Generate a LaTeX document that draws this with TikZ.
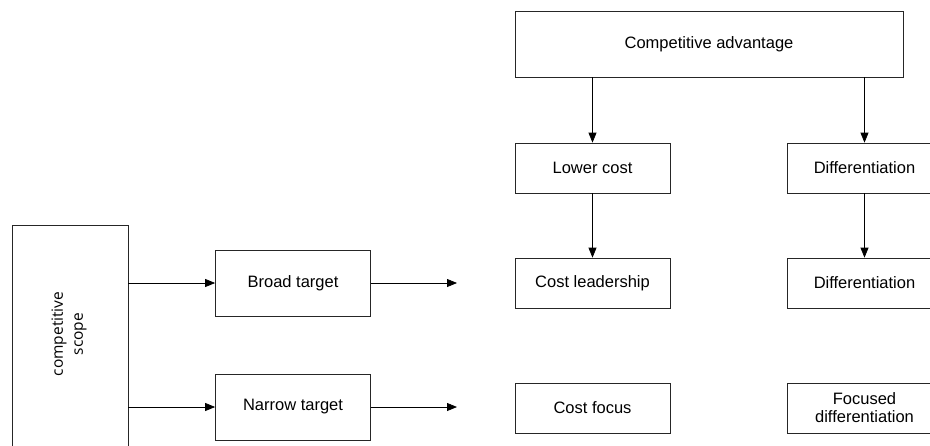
\documentclass[tikz,border=0pt]{standalone}
\usepackage{fontspec}
\setmainfont{Liberation Sans}
\newfontfamily\scopefont{Open Sans}
\usetikzlibrary{arrows.meta}
\begin{document}
\begin{tikzpicture}[x=1pt,y=-1pt,
  box/.style={draw=black!85,line width=0.75pt,minimum width=155pt,minimum height=50pt,align=center,inner sep=0pt,
    font=\fontsize{16.5}{18}\selectfont},
  arr/.style={line width=0.75pt,-{Triangle[length=10pt,width=8pt]}}]
\useasboundingbox (0,0) rectangle (930,445);
\clip (0,0) rectangle (930,445);
\fill[white] (0,0) rectangle (930,445);
% competitive scope
\node[draw=black!85,line width=0.75pt,minimum width=116pt,minimum height=240pt,inner sep=0pt] (scope) at (70,345) {};
\node[rotate=90,align=center,font=\scopefont\fontsize{15.5}{20}\selectfont] (scopetxt) at (69,334) {competitive\\scope};
% top
\node[box,minimum width=388pt,minimum height=66pt] (ca) at (709,44) {Competitive advantage};
\node[box] (lc) at (592.5,168) {Lower cost};
\node[box] (d1) at (864.5,168) {Differentiation};
\node[box] (cl) at (592.5,283) {Cost leadership};
\node[box] (d2) at (864.5,283) {Differentiation};
\node[box] (cf) at (592.5,408) {Cost focus};
\node[box] (fd) at (864.5,408) {Focused\\differentiation};
\node[box,minimum height=66pt] (bt) at (293,283) {Broad target};
\node[box,minimum height=66pt] (nt) at (293,407) {Narrow target};
\coordinate (be) at (457,283);
\coordinate (ne) at (457,407);
% arrows
\draw[arr] (ca.south -| lc) -- (lc.north);
\draw[arr] (ca.south -| d1) -- (d1.north);
\draw[arr] (lc) -- (cl);
\draw[arr] (d1) -- (d2);
\draw[arr] (scope.east |- bt) -- (bt.west);
\draw[arr] (scope.east |- nt) -- (nt.west);
\draw[arr] (bt.east) -- (be);
\draw[arr] (nt.east) -- (ne);
\end{tikzpicture}
\end{document}
